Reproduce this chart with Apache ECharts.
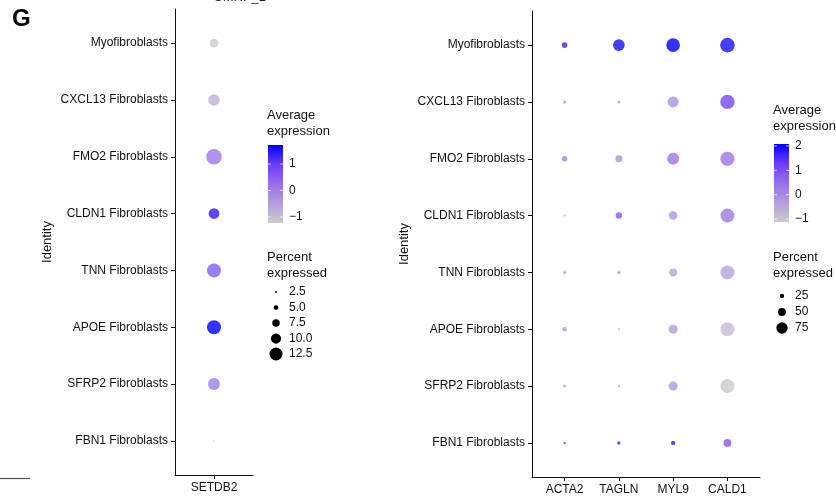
<!DOCTYPE html>
<html>
<head>
<meta charset="utf-8">
<title>Dot plot</title>
<script src="https://cdn.jsdelivr.net/npm/echarts@6.0.0/dist/echarts.min.js"></script>
<style>
  html, body { margin: 0; padding: 0; background: #fff; }
  #main { width: 836px; height: 496px; }
</style>
</head>
<body>
<div id="main"></div>
<script>
// 行（细胞类型）
var rowNames = ['Myofibroblasts', 'CXCL13 Fibroblasts', 'FMO2 Fibroblasts', 'CLDN1 Fibroblasts',
    'TNN Fibroblasts', 'APOE Fibroblasts', 'SFRP2 Fibroblasts', 'FBN1 Fibroblasts'];

// 左图：SETDB2
var leftGenes = ['SETDB2'];
var leftExpr = [-1.23, -0.79, 0.13, 1.37, 0.54, 1.72, 0.01, -0.64];
var leftPct = [8.6, 11.1, 14.8, 10.4, 13.4, 13.4, 11.6, 2.0];
var leftExprRange = [-1.23, 1.72];
var leftColorTicks = [-1, 0, 1];
var leftSizeBreaks = [2.5, 5, 7.5, 10, 12.5];
var leftSizeLabels = ['2.5', '5.0', '7.5', '10.0', '12.5'];

// 右图：四个基因，每行按 rowNames 顺序
var rightGenes = ['ACTA2', 'TAGLN', 'MYL9', 'CALD1'];
var rightExpr = [
    [1.60, 1.92, 2.08, 1.90],
    [-0.16, -0.16, -0.10, 1.12],
    [0.16, -0.03, 0.35, 0.35],
    [-0.32, 0.80, -0.16, 0.29],
    [0.03, 0.00, -0.42, -0.42],
    [-0.22, -0.48, -0.29, -0.86],
    [-0.29, -0.48, -0.26, -1.12],
    [1.28, 1.60, 1.66, 0.86]
];
var rightPct = [
    [35, 78, 92, 99],
    [16, 16, 73, 97],
    [34, 44, 80, 96],
    [9, 41, 55, 94],
    [16, 16, 51, 94],
    [26, 9, 59, 94],
    [16, 12, 59, 94],
    [12, 19, 26, 51]
];
var rightExprRange = [-1.12, 2.08];
var rightColorTicks = [-1, 0, 1, 2];
var rightSizeBreaks = [25, 50, 75];

// lightgrey -> blue（近似 Lab 插值，稍微压暗一点）
var gradColors = ['#CBCBCB', '#B49CDC', '#976FE9', '#6A3EF4', '#0000FF'];
var FONT = 'Liberation Sans, Arial, Helvetica, sans-serif';

function sizeLeft(p) { return Math.max(1.2, 1.1 * p - 0.75); }
function sizeRight(p) { return Math.max(1.2, 0.14 * p + 0.8); }

var leftData = [];
for (var i = 0; i < rowNames.length; i++) {
    leftData.push([0, i, leftExpr[i], leftPct[i]]);
}
var rightData = [];
for (var r = 0; r < rowNames.length; r++) {
    for (var g = 0; g < rightGenes.length; g++) {
        rightData.push([g, r, rightExpr[r][g], rightPct[r][g]]);
    }
}

var rowIdx = rowNames.map(function (d, k) { return k; });

function yAxisOf(gridIndex) {
    return {
        type: 'value', gridIndex: gridIndex, inverse: true, min: -0.6, max: 7.6,
        name: 'Identity', nameLocation: 'middle', nameRotate: 90, nameGap: 121,
        nameTextStyle: { color: '#111', fontSize: 13, fontFamily: FONT },
        splitLine: { show: false },
        axisLine: { show: true, onZero: false, lineStyle: { color: '#111', width: 1 } },
        axisTick: { show: true, length: 4, lineStyle: { color: '#111' }, customValues: rowIdx },
        axisLabel: {
            color: '#111', fontSize: 12, fontFamily: FONT, margin: 7, customValues: rowIdx,
            formatter: function (v) { return rowNames[Math.round(v)] || ''; }
        }
    };
}
function xAxisOf(gridIndex, genes) {
    var idx = genes.map(function (d, k) { return k; });
    return {
        type: 'value', gridIndex: gridIndex, min: -0.6, max: genes.length - 0.4,
        splitLine: { show: false },
        axisLine: { show: true, onZero: false, lineStyle: { color: '#111', width: 1 } },
        axisTick: { show: true, length: 4, lineStyle: { color: '#111' }, customValues: idx },
        axisLabel: {
            color: '#111', fontSize: 12, fontFamily: FONT, margin: 7, customValues: idx,
            formatter: function (v) { return genes[Math.round(v)] || ''; }
        }
    };
}

function txt(x, y, s, size) {
    return { type: 'text', x: x, y: y, style: { text: s, font: size + 'px ' + FONT, fill: '#111', verticalAlign: 'middle' } };
}

// 图例：颜色条 + 点大小
function legendGraphics(x, titleY, barTop, barBottom, range, ticks, sizeTitleY, dotY, dotStep, sizeBreaks, sizeLabels, sizeFn) {
    var els = [];
    var barH = barBottom - barTop;
    els.push(txt(x, titleY, 'Average', 13));
    els.push(txt(x, titleY + 16, 'expression', 13));
    var stops = gradColors.map(function (c, k) { return { offset: k / (gradColors.length - 1), color: c }; });
    // 上蓝下灰
    stops.reverse().forEach(function (s, k) { s.offset = k / (gradColors.length - 1); });
    els.push({ type: 'rect', shape: { x: x + 1, y: barTop, width: 15, height: barH },
        style: { fill: new echarts.graphic.LinearGradient(0, 0, 0, 1, stops) } });
    ticks.forEach(function (t) {
        var ty = barTop + (range[1] - t) / (range[1] - range[0]) * barH;
        var lbl = t < 0 ? '\u2212' + Math.abs(t) : String(t);
        els.push(txt(x + 22, ty, lbl, 12));
        els.push({ type: 'line', shape: { x1: x + 1, y1: ty, x2: x + 4, y2: ty }, style: { stroke: '#fff', lineWidth: 1, opacity: 0.7 } });
        els.push({ type: 'line', shape: { x1: x + 13, y1: ty, x2: x + 16, y2: ty }, style: { stroke: '#fff', lineWidth: 1, opacity: 0.7 } });
    });
    els.push(txt(x, sizeTitleY, 'Percent', 13));
    els.push(txt(x, sizeTitleY + 16, 'expressed', 13));
    sizeBreaks.forEach(function (b, k) {
        var cy = dotY + k * dotStep;
        els.push({ type: 'circle', shape: { cx: x + 9, cy: cy, r: sizeFn(b) / 2 }, style: { fill: '#000' } });
        els.push(txt(x + 22, cy, sizeLabels ? sizeLabels[k] : String(b), 12));
    });
    return els;
}

var graphics = [
    { type: 'text', x: 12, y: 19, style: { text: 'G', font: 'bold 24px ' + FONT, fill: '#000', verticalAlign: 'middle' } },
    // 上方被裁掉的标题残影
    { type: 'text', x: 214, y: -3, style: { text: 'SMRP_1', font: '13px ' + FONT, fill: '#222', verticalAlign: 'middle' } },
    { type: 'line', shape: { x1: 0, y1: 478.5, x2: 30, y2: 478.5 }, style: { stroke: '#555', lineWidth: 1.2 } }
];
graphics = graphics.concat(legendGraphics(267, 115, 145, 223, leftExprRange, leftColorTicks, 257, 292, 15.5, leftSizeBreaks, leftSizeLabels, sizeLeft));
graphics = graphics.concat(legendGraphics(773, 110, 144, 222, rightExprRange, rightColorTicks, 257, 296, 16, rightSizeBreaks, null, sizeRight));

var myChart = echarts.init(document.getElementById('main'));
var option = {
    animation: false,
    backgroundColor: '#fff',
    grid: [
        { left: 175, right: 583, top: 9, bottom: 21 },
        { left: 532, right: 76, top: 11, bottom: 19 }
    ],
    xAxis: [xAxisOf(0, leftGenes), xAxisOf(1, rightGenes)],
    yAxis: [yAxisOf(0), yAxisOf(1)],
    visualMap: [
        { show: false, type: 'continuous', seriesIndex: 0, dimension: 2,
          min: leftExprRange[0], max: leftExprRange[1], inRange: { color: gradColors } },
        { show: false, type: 'continuous', seriesIndex: 1, dimension: 2,
          min: rightExprRange[0], max: rightExprRange[1], inRange: { color: gradColors } }
    ],
    series: [
        { type: 'scatter', xAxisIndex: 0, yAxisIndex: 0, data: leftData,
          symbolSize: function (v) { return sizeLeft(v[3]); } },
        { type: 'scatter', xAxisIndex: 1, yAxisIndex: 1, data: rightData,
          symbolSize: function (v) { return sizeRight(v[3]); } }
    ],
    graphic: graphics
};
myChart.setOption(option, true);
</script>
</body>
</html>
